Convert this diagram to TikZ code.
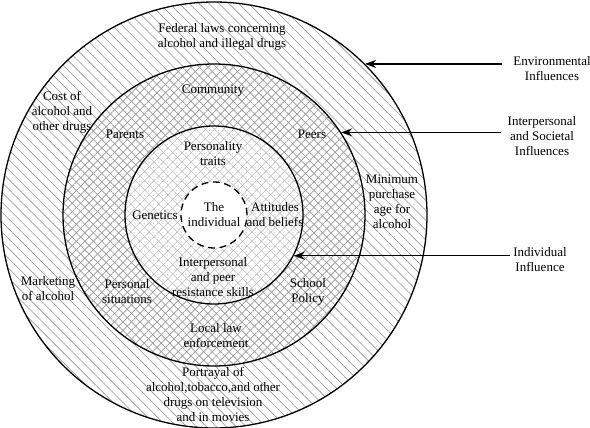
\documentclass[tikz,border=0pt]{standalone}
\usepackage{fontspec}
\setmainfont{Liberation Serif}
\usetikzlibrary{patterns.meta,arrows.meta}
\begin{document}
\begin{tikzpicture}[x=1pt,y=1pt,
 lbl/.style={align=center, font=\fontsize{13}{15}\selectfont, inner sep=0pt},
 ring/.style={circle, draw, line width=1.3pt, inner sep=0pt},
 arr/.style={line width=1.2pt, -{Stealth[length=11pt,width=8pt]}},
 hatchA/.style={pattern={Lines[angle=-45,distance=7pt,line width=0.6pt]}, pattern color=black!42},
 hatchB/.style={pattern={Lines[angle=45,distance=6pt,line width=0.7pt]}, pattern color=black!40},
 hatchC/.style={pattern={Lines[angle=-45,distance=6pt,line width=0.7pt]}, pattern color=black!40},
 hatchD/.style={pattern={Lines[angle=45,distance=6.6pt,line width=0.55pt]}, pattern color=black!25},
 hatchE/.style={pattern={Lines[angle=-45,distance=6.6pt,line width=0.55pt]}, pattern color=black!25},
 hatchF/.style={pattern={Dots[distance=4.65pt,radius=0.4pt]}, pattern color=black!35},
]
\useasboundingbox (0,0) rectangle (590,428);
\coordinate (c) at (214,213);
% ring fills
\fill[white] (c) circle[radius=213pt];
\path[hatchA] (c) circle[radius=213pt];
\fill[white] (c) circle[radius=151pt];
\path[hatchB] (c) circle[radius=151pt];
\path[hatchC] (c) circle[radius=151pt];
\fill[white] (c) circle[radius=89pt];
\path[hatchD] (c) circle[radius=89pt];
\path[hatchE] (c) circle[radius=89pt];
\path[hatchF] (c) circle[radius=89pt];
\fill[white] (c) circle[radius=33pt];
% ring outlines
\node[ring, minimum size=426pt] (outer) at (c) {};
\node[ring, minimum size=302pt] (middle) at (c) {};
\node[ring, minimum size=178pt] (inner) at (c) {};
\node[circle, draw, line width=1.3pt, dash pattern=on 7pt off 4.5pt, minimum size=66pt, inner sep=0pt] (self) at (c) {};
% texts
\node[lbl] (fed) at (222,391) {Federal laws concerning\\alcohol and illegal drugs};
\node[lbl] (cost) at (62,316) {Cost of\\alcohol and\\other drugs};
\node[lbl] (comm) at (213,337) {Community};
\node[lbl] (par) at (125,294) {Parents};
\node[lbl] (pers) at (213,274) {Personality\\traits};
\node[lbl] (peers) at (312,294) {Peers};
\node[lbl] (minp) at (392,226) {Minimum\\purchase\\age for\\alcohol};
\node[lbl] (gen) at (155,213) {Genetics};
\node[lbl] (indv) at (214,213) {The\\individual};
\node[lbl] (att) at (275,213) {Attitudes\\and beliefs};
\node[lbl] (skills) at (213,151) {Interpersonal\\and peer\\resistance skills};
\node[lbl] (sit) at (127,136) {Personal\\situations};
\node[lbl] (school) at (308,136) {School\\Policy};
\node[lbl] (mkt) at (48,139) {Marketing\\of alcohol};
\node[lbl] (law) at (216,92) {Local law\\enforcement};
\node[lbl] (port) at (213,34) {Portrayal of\\alcohol,tobacco,and other\\drugs on television\\and in movies};
\node[lbl] (envl) at (552,359) {Environmental\\Influences};
\node[lbl] (socl) at (542,292) {Interpersonal\\and Societal\\Influences};
\node[lbl] (indl) at (540,168) {Individual\\Influence};
% arrows
\draw[arr] ([xshift=-11pt]envl.west |- outer.45.5) -- (outer.45.5);
\draw[arr] ([xshift=-7pt]socl.west |- middle.33.3) -- (middle.33.3);
\draw[arr] ([xshift=-3pt]indl.west |- inner.-27.4) -- (inner.-27.4);
\end{tikzpicture}
\end{document}
